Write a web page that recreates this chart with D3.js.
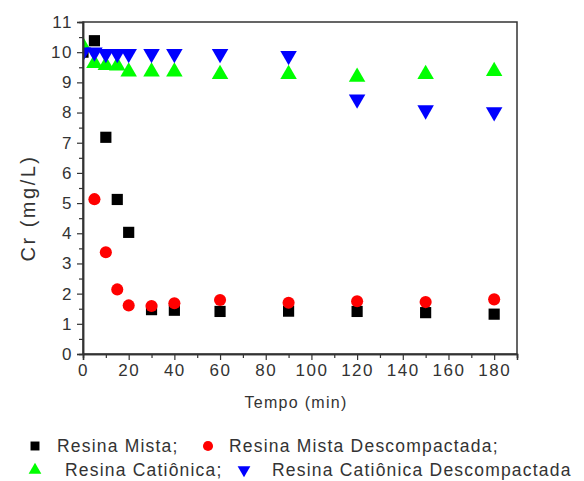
<!DOCTYPE html>
<html>
<head>
<meta charset="utf-8">
<script src="https://cdn.jsdelivr.net/npm/d3@7"></script>
<style>
  body { margin: 0; background: #fff; }
  svg text { font-family: "Liberation Sans", Arial, sans-serif; fill: #333; }
</style>
</head>
<body>
<div id="chart"></div>
<script>
// Data
var tempo = [0, 5, 10, 15, 20, 30, 40, 60, 90, 120, 150, 180];
var mista = [10.0, 10.38, 7.18, 5.12, 4.03, 1.47, 1.45, 1.41, 1.42, 1.41, 1.37, 1.32];
var mistaDesc = [null, 5.13, 3.37, 2.14, 1.61, 1.59, 1.68, 1.79, 1.70, 1.75, 1.72, 1.81];
var cationica = [10.2, 9.63, 9.57, 9.55, 9.35, 9.35, 9.35, 9.27, 9.27, 9.18, 9.27, 9.37];
var cationicaDesc = [10.0, 10.0, 9.95, 9.95, 9.95, 9.95, 9.95, 9.95, 9.88, 8.44, 8.08, 8.02];

var xTicks = [0, 20, 40, 60, 80, 100, 120, 140, 160, 180];
var yTicks = [0, 1, 2, 3, 4, 5, 6, 7, 8, 9, 10, 11];

var series = [
  { name: "Resina Mista;", values: mista, color: "#000000", shape: "square" },
  { name: "Resina Mista Descompactada;", values: mistaDesc, color: "#ff0000", shape: "circle" },
  { name: "Resina Catiônica;", values: cationica, color: "#00ff00", shape: "up" },
  { name: "Resina Catiônica Descompactada", values: cationicaDesc, color: "#0000ff", shape: "down" }
];

var svgWidth = 584;
var svgHeight = 481;
var margin = { top: 22, right: 67, bottom: 127, left: 83 };
var width = svgWidth - margin.left - margin.right;
var height = svgHeight - margin.top - margin.bottom;

var svg = d3.select("#chart")
  .append("svg")
  .attr("width", svgWidth)
  .attr("height", svgHeight);

svg.append("defs").append("clipPath")
  .attr("id", "plotclip")
  .append("rect")
  .attr("width", width)
  .attr("height", height);

var chartGroup = svg.append("g")
  .attr("transform", `translate(${margin.left}, ${margin.top})`);

var x = d3.scaleLinear().domain([0, 190]).range([0, width]);
var y = d3.scaleLinear().domain([0, 11]).range([height, 0]);

// markers (clipped to the plot area)
var symbols = {
  square: d3.symbol().type(d3.symbolSquare).size(125),
  circle: d3.symbol().type(d3.symbolCircle).size(115),
  up: d3.symbol().type(d3.symbolTriangle).size(118),
  down: d3.symbol().type(d3.symbolTriangle).size(118)
};

var marks = chartGroup.append("g").attr("clip-path", "url(#plotclip)");
series.forEach(function (s) {
  var pts = tempo.map((t, i) => ({ t: t, v: s.values[i] })).filter(d => d.v != null);
  marks.append("g").selectAll("path")
    .data(pts)
    .enter()
    .append("path")
    .attr("d", symbols[s.shape])
    .attr("fill", s.color)
    .attr("transform", d => `translate(${x(d.t)}, ${y(d.v)})` + (s.shape === "down" ? " rotate(180)" : ""));
});

// frame
chartGroup.append("rect")
  .attr("width", width)
  .attr("height", height)
  .attr("fill", "none")
  .attr("stroke", "#333")
  .attr("stroke-width", 1.5);

// axes with minor ticks
var xMinor = d3.range(10, 191, 20);
var yMinor = d3.range(0.5, 11, 1);

var xAxis = d3.axisBottom(x).tickValues(xTicks).tickSize(6).tickPadding(4).tickFormat(d3.format("d"));
var yAxis = d3.axisLeft(y).tickValues(yTicks).tickSize(6).tickPadding(4).tickFormat(d3.format("d"));

var gx = chartGroup.append("g")
  .attr("transform", `translate(0, ${height})`)
  .call(xAxis);
gx.append("g").call(d3.axisBottom(x).tickValues(xMinor).tickSize(4).tickFormat(""));

var gy = chartGroup.append("g").call(yAxis);
gy.append("g").call(d3.axisLeft(y).tickValues(yMinor).tickSize(4).tickFormat(""));

[gx, gy].forEach(function (g) {
  g.selectAll(".domain").attr("stroke", "#333").attr("stroke-width", 1.5);
  g.selectAll("line").attr("stroke", "#333").attr("stroke-width", 1.2);
  g.selectAll("text")
    .style("font-size", "17px")
    .style("letter-spacing", "1.5px")
    .attr("fill", "#333");
});

// axis titles
chartGroup.append("text")
  .attr("transform", "rotate(-90)")
  .attr("x", -(208 - margin.top))
  .attr("y", 28 - margin.left)
  .attr("text-anchor", "middle")
  .attr("dominant-baseline", "central")
  .style("font-size", "20px")
  .style("letter-spacing", "2.5px")
  .text("Cr (mg/L)");

chartGroup.append("text")
  .attr("x", 296 - margin.left)
  .attr("y", 408 - margin.top)
  .attr("text-anchor", "middle")
  .style("font-size", "16px")
  .style("letter-spacing", "1.3px")
  .text("Tempo (min)");

// legend
var legendPos = [
  { mx: 35, tx: 57, y: 446 },
  { mx: 208, tx: 229, y: 446 },
  { mx: 35, tx: 65, y: 470 },
  { mx: 244, tx: 272, y: 470 }
];
var legendSym = {
  square: d3.symbol().type(d3.symbolSquare).size(80),
  circle: d3.symbol().type(d3.symbolCircle).size(80),
  up: d3.symbol().type(d3.symbolTriangle).size(70),
  down: d3.symbol().type(d3.symbolTriangle).size(70)
};

var legend = svg.append("g");
series.forEach(function (s, i) {
  var p = legendPos[i];
  legend.append("path")
    .attr("d", legendSym[s.shape])
    .attr("fill", s.color)
    .attr("transform", `translate(${p.mx}, ${p.y})` + (s.shape === "down" ? " rotate(180)" : ""));
  legend.append("text")
    .attr("x", p.tx)
    .attr("y", p.y)
    .attr("dominant-baseline", "central")
    .style("font-size", "17.5px")
    .style("letter-spacing", "1.2px")
    .attr("fill", "#111")
    .text(s.name);
});
</script>
</body>
</html>
